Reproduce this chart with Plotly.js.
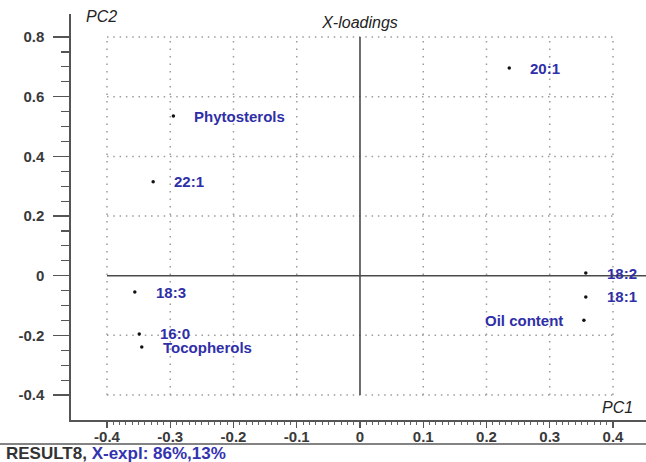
<!DOCTYPE html>
<html>
<head>
<meta charset="utf-8">
<script src="https://cdn.plot.ly/plotly-3.0.1.min.js"></script>
<style>html,body{margin:0;padding:0;background:#fff;}#chart{width:646px;height:462px;}</style>
</head>
<body>
<div id="chart"></div>
<script>
// ---- data ----
const variables = ['20:1', 'Phytosterols', '22:1', '18:3', '16:0', 'Tocopherols', '18:2', '18:1', 'Oil content'];
const pc1 = [0.236, -0.295, -0.327, -0.356, -0.349, -0.345, 0.357, 0.357, 0.354];
const pc2 = [0.696, 0.535, 0.315, -0.055, -0.195, -0.239, 0.009, -0.071, -0.149];
const xTicks = [-0.4, -0.3, -0.2, -0.1, 0, 0.1, 0.2, 0.3, 0.4];
const xTickLabels = ['-0.4', '-0.3', '-0.2', '-0.1', '0', '0.1', '0.2', '0.3', '0.4'];
const yTicks = [0.8, 0.6, 0.4, 0.2, 0, -0.2, -0.4];
const yTickLabels = ['0.8', '0.6', '0.4', '0.2', '0', '-0.2', '-0.4'];
const leftLabeled = ['Oil content'];
const footerName = 'RESULT8, ';
const footerExpl = 'X-expl: 86%,13%';

// ---- layout helpers ----
const xRange = [-0.4569, 0.4522];
const yRange = [-0.4837, 0.8773];
const xMin = xTicks[0], xMax = xTicks[xTicks.length - 1];
const yMax = yTicks[0], yMin = yTicks[yTicks.length - 1];

function range(a, b, step) {
  const out = [];
  const n = Math.round((b - a) / step);
  for (let i = 0; i <= n; i++) out.push(+(a + i * step).toFixed(4));
  return out;
}

const gridColor = '#9c9c9c';
const shapes = [];
xTicks.forEach(v => {
  if (v === 0) return;
  shapes.push({type: 'line', xref: 'x', yref: 'y', x0: v, x1: v, y0: yMin, y1: yMax,
    line: {color: gridColor, width: 1.5, dash: '1.5px,6px'}, layer: 'below'});
});
yTicks.forEach(v => {
  if (v === 0) return;
  shapes.push({type: 'line', xref: 'x', yref: 'y', x0: xMin, x1: xMax, y0: v, y1: v,
    line: {color: gridColor, width: 1.5, dash: '1.5px,4.8px'}, layer: 'below'});
});
// solid zero axes
shapes.push({type: 'line', xref: 'x', yref: 'y', x0: xMin, x1: xRange[1], y0: 0, y1: 0,
  line: {color: '#4a4a4a', width: 1.6}});
shapes.push({type: 'line', xref: 'x', yref: 'y', x0: 0, x1: 0, y0: yMin, y1: yMax,
  line: {color: '#4a4a4a', width: 1.6}});
// footer separator
shapes.push({type: 'line', xref: 'paper', yref: 'paper', x0: -0.13, x1: 1, y0: -0.059, y1: -0.059,
  line: {color: '#5a5a5a', width: 1.5}});

const labelFont = {family: 'Liberation Sans, Arial, sans-serif', size: 15, color: '#2f2fa8', weight: 'bold'};
const annotations = variables.map((name, i) => {
  const left = leftLabeled.includes(name);
  return {
    x: pc1[i], y: pc2[i], xref: 'x', yref: 'y', text: name, showarrow: false,
    xanchor: left ? 'right' : 'left', yanchor: 'middle',
    xshift: left ? -19 : 19, font: labelFont
  };
});

const titleFont = {family: 'Liberation Sans, Arial, sans-serif', size: 16, color: '#222', style: 'italic'};
annotations.push({xref: 'paper', yref: 'paper', x: 0.0226, y: 0.995, xanchor: 'left', yanchor: 'middle',
  text: 'PC2', showarrow: false, font: titleFont});
annotations.push({xref: 'paper', yref: 'paper', x: 0.981, y: 0.032, xanchor: 'right', yanchor: 'middle',
  text: 'PC1', showarrow: false, font: titleFont});
annotations.push({xref: 'paper', yref: 'paper', x: -0.1165, y: -0.0837, xanchor: 'left', yanchor: 'middle',
  text: footerName + '<span style="color:#3333b0">' + footerExpl + '</span>', showarrow: false,
  font: {family: 'Liberation Sans, Arial, sans-serif', size: 17, color: '#333', weight: 'bold'}});

const tickFont = {family: 'Liberation Sans, Arial, sans-serif', size: 15, color: '#3a3a3a', weight: 'bold'};

const trace = {
  x: pc1, y: pc2, type: 'scatter', mode: 'markers', text: variables, hoverinfo: 'text',
  marker: {color: '#111', size: 3.5}
};

const layout = {
  width: 646, height: 462,
  margin: {l: 71, r: 0, t: 14, b: 42},
  paper_bgcolor: '#fff', plot_bgcolor: '#fff',
  showlegend: false,
  title: {text: 'X-loadings', x: 360 / 646, xref: 'container', y: 1 - 22 / 462, yref: 'container',
    xanchor: 'center', yanchor: 'middle', font: titleFont},
  xaxis: {
    range: xRange, showgrid: false, zeroline: false,
    showline: true, linecolor: '#555', linewidth: 1.6, mirror: false,
    tickmode: 'array', tickvals: xTicks, ticktext: xTickLabels,
    ticks: 'outside', ticklen: 6, tickwidth: 1.2, tickcolor: '#555',
    minor: {tickmode: 'array', tickvals: range(xMin, xMax, 0.01), ticks: 'outside', ticklen: 3, tickwidth: 1, tickcolor: '#666'},
    tickfont: tickFont, ticklabelstandoff: -4
  },
  yaxis: {
    range: yRange, showgrid: false, zeroline: false,
    showline: true, linecolor: '#555', linewidth: 1.6,
    tickmode: 'array', tickvals: yTicks, ticktext: yTickLabels,
    ticks: 'outside', ticklen: 16, tickwidth: 1.2, tickcolor: '#555',
    minor: {tickmode: 'array', tickvals: range(yMin, yMax, 0.05), ticks: 'outside', ticklen: 8, tickwidth: 1.2, tickcolor: '#555'},
    tickfont: tickFont, ticklabelstandoff: 6
  },
  shapes: shapes,
  annotations: annotations
};

Plotly.newPlot('chart', [trace], layout, {staticPlot: true, displayModeBar: false});
</script>
</body>
</html>
